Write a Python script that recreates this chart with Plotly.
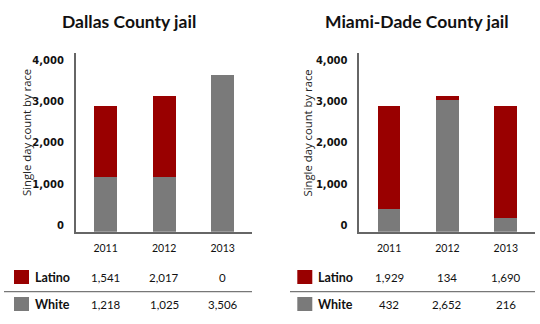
import plotly.graph_objects as go

years = ["2011", "2012", "2013"]
races = ["Latino", "White"]

# table values (as printed under each chart)
dallas_latino = [1541, 2017, 0]
dallas_white = [1218, 1025, 3506]
miami_latino = [1929, 134, 1690]
miami_white = [432, 2652, 216]

# bar heights as drawn in the chart
dallas_bar_white = [1330, 1330, 3780]
dallas_bar_latino = [1710, 1940, 0]
miami_bar_white = [540, 3180, 340]
miami_bar_latino = [2500, 100, 2700]

titles = ["Dallas County jail", "Miami-Dade County jail"]
y_title = "Single day count by race"
y_ticks = [0, 1000, 2000, 3000, 4000]

RED = "#990000"
GRAY = "#7a7a7a"
W, H = 540, 324

def px(x):
    return x / W

def py(y):
    return (H - y) / H

fig = go.Figure()

panels = [
    dict(xa="x", ya="y", bw=dallas_bar_white, bl=dallas_bar_latino,
         tw=dallas_white, tl=dallas_latino, dom=[75.7, 252], title_x=128.5,
         ytitle_x=26, sq_x=14, lab_x=33, sep=(4, 252)),
    dict(xa="x2", ya="y2", bw=miami_bar_white, bl=miami_bar_latino,
         tw=miami_white, tl=miami_latino, dom=[359.3, 535], title_x=416.5,
         ytitle_x=306.5, sq_x=297.3, lab_x=315.7, sep=(290, 535)),
]

ydom = [py(231.7), py(53)]
tickfont = dict(family="DejaVu Sans", size=10, weight="bold", color="#111")
xtickfont = dict(family="Lato", size=10.5, color="#111")

annotations = []
shapes = []
for i, p in enumerate(panels):
    fig.add_trace(go.Bar(x=years, y=p["bw"], marker=dict(color=GRAY, line=dict(width=0)),
                         xaxis=p["xa"], yaxis=p["ya"], name="White", showlegend=False))
    fig.add_trace(go.Bar(x=years, y=p["bl"], marker=dict(color=RED, line=dict(width=0)),
                         xaxis=p["xa"], yaxis=p["ya"], name="Latino", showlegend=False))
    sfx = "" if i == 0 else "2"
    fig.update_layout(**{
        "xaxis" + sfx: dict(type="category", domain=[px(p["dom"][0]), px(p["dom"][1])],
                            range=[-0.51, 2.5],
                            showline=True, linecolor="#666", linewidth=1.5, showgrid=False,
                            zeroline=False, ticks="", tickfont=xtickfont,
                            ticklabelstandoff=6, anchor="y" + sfx, fixedrange=True),
        "yaxis" + sfx: dict(domain=ydom, range=[0, 4316], showline=True, linecolor="#666",
                            linewidth=1.5, showgrid=False, zeroline=False, ticks="",
                            tickvals=y_ticks, tickformat=",", tickfont=tickfont,
                            ticklabelshift=-6, ticklabelstandoff=8,
                            anchor="x" + sfx, fixedrange=True),
    })
    # title
    annotations.append(dict(text=titles[i], x=px(p["title_x"]), y=py(22), xref="paper", yref="paper",
                            showarrow=False, xanchor="center", yanchor="middle",
                            font=dict(family="Lato", size=17.5, weight="bold", color="#111")))
    # y title
    annotations.append(dict(text=y_title, x=px(p["ytitle_x"]), y=py(133), xref="paper", yref="paper",
                            showarrow=False, textangle=-90, xanchor="center", yanchor="middle",
                            font=dict(family="Open Sans", size=11.3, color="#222")))
    # table rows
    rows = [("Latino", p["tl"], RED, 277), ("White", p["tw"], GRAY, 304)]
    for name, vals, col, yc in rows:
        shapes.append(dict(type="rect", xref="paper", yref="paper",
                           x0=px(p["sq_x"]), x1=px(p["sq_x"] + 15),
                           y0=py(yc + 7), y1=py(yc - 7), fillcolor=col, line=dict(width=0)))
        annotations.append(dict(text=name, x=px(p["lab_x"]), y=py(yc), xref="paper", yref="paper",
                                showarrow=False, xanchor="left", yanchor="middle",
                                font=dict(family="Lato", size=12.5, weight="bold", color="#111")))
        for j, v in enumerate(vals):
            annotations.append(dict(text=f"{v:,}", x=j, y=py(yc), xref=p["xa"], yref="paper",
                                    showarrow=False, xanchor="center", yanchor="middle",
                                    font=dict(family="Lato", size=11.5, color="#111")))
    shapes.append(dict(type="line", xref="paper", yref="paper", x0=px(p["sep"][0]), x1=px(p["sep"][1]),
                       y0=py(291.7), y1=py(291.7), line=dict(color="#777", width=1.2)))

fig.update_layout(
    width=W, height=H, margin=dict(l=0, r=0, t=0, b=0),
    barmode="stack", bargap=0.61,
    plot_bgcolor="white", paper_bgcolor="white",
    annotations=annotations, shapes=shapes, showlegend=False,
)

fig.write_html("out.html", config={"displayModeBar": False})
